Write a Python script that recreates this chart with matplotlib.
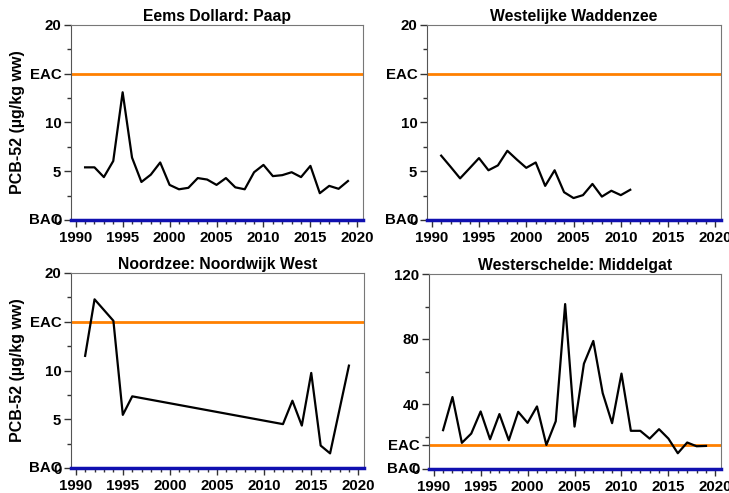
import numpy as np
import matplotlib.pyplot as plt
import matplotlib.transforms as mtransforms

plt.rcParams['font.family'] = ['Liberation Sans', 'DejaVu Sans']
plt.rcParams['font.weight'] = 'bold'

# Eems Dollard: Paap
eems_years = list(range(1991, 2020))
eems_vals = [5.4, 5.4, 4.4, 6.05, 13.1, 6.4, 3.9, 4.65, 5.9, 3.6, 3.15, 3.3, 4.3, 4.15,
             3.6, 4.3, 3.35, 3.15, 4.9, 5.65, 4.5, 4.6, 4.9, 4.4, 5.55, 2.75, 3.5, 3.2, 4.0]

# Westelijke Waddenzee
wadden_years = list(range(1991, 2012))
wadden_vals = [6.6, 5.45, 4.27, 5.3, 6.35, 5.1, 5.6, 7.1, 6.2, 5.35, 5.9, 3.5, 5.1,
               2.85, 2.25, 2.55, 3.7, 2.4, 3.0, 2.55, 3.1]

# Noordzee: Noordwijk West
noord_years = [1991, 1992, 1994, 1995, 1996, 2012, 2013, 2014, 2015, 2016, 2017, 2019]
noord_vals = [11.5, 17.3, 15.1, 5.45, 7.35, 4.5, 6.9, 4.35, 9.75, 2.3, 1.5, 10.5]

# Westerschelde: Middelgat
schelde_years = list(range(1991, 2020))
schelde_vals = [23.9, 44.3, 16.1, 21.8, 35.4, 18.3, 33.8, 17.7, 35.2, 28.4, 38.5, 14.8,
                29.4, 101.5, 26.1, 64.8, 78.8, 46.7, 28.2, 58.7, 23.5, 23.5, 18.7, 24.5,
                18.7, 9.7, 16.3, 14.0, 14.2]

EAC = 15
BAC = 0

panels = [
    ("Eems Dollard: Paap", eems_years, eems_vals, 20, [0, 5, 10, 15, 20], ['0', '5', '10', 'EAC', '20'],
     [2.5, 7.5, 12.5, 17.5], [71, 363, 25, 220], True),
    ("Westelijke Waddenzee", wadden_years, wadden_vals, 20, [0, 5, 10, 15, 20], ['0', '5', '10', 'EAC', '20'],
     [2.5, 7.5, 12.5, 17.5], [427, 721, 25, 220], False),
    ("Noordzee: Noordwijk West", noord_years, noord_vals, 20, [0, 5, 10, 15, 20], ['0', '5', '10', 'EAC', '20'],
     [2.5, 7.5, 12.5, 17.5], [71, 364, 273, 468], True),
    ("Westerschelde: Middelgat", schelde_years, schelde_vals, 120, [0, 15, 40, 80, 120], ['0', 'EAC', '40', '80', '120'],
     [20, 60, 100], [429, 721, 274, 469], False),
]

W, H = 729, 493
fig = plt.figure(figsize=(W / 100, H / 100), dpi=100)

for title, yrs, vals, ymax, yt, ytl, ymin_t, box, ylab in panels:
    l, r, t, b = box
    ax = fig.add_axes([l / W, 1 - b / H, (r - l) / W, (b - t) / H])
    ax.plot(yrs, vals, color='black', lw=1.6, zorder=3)
    ax.axhline(EAC, color='#FF8000', lw=2, zorder=2)
    ax.axhline(BAC, color='#1010B0', lw=2.5, zorder=4, clip_on=False)
    ax.set_xlim(1989.5, 2020.6)
    ax.set_ylim(0, ymax)
    ax.set_xticks(range(1990, 2021, 5))
    ax.set_xticks(range(1990, 2021), minor=True)
    ax.set_yticks(yt, ytl)
    ax.set_yticks(ymin_t, minor=True)
    ax.tick_params(which='both', direction='out', labelsize=10.8, color='#333333')
    ax.tick_params(which='major', length=5, width=1)
    ax.tick_params(which='minor', length=3, width=1)
    ax.tick_params(axis='x', pad=3)
    ax.tick_params(axis='y', pad=2)
    for lab in ax.get_xticklabels() + ax.get_yticklabels():
        lab.set_fontweight('bold')
    for s in ['top', 'right']:
        ax.spines[s].set_color('#777777')
    ax.spines['left'].set_color('#555555')
    ax.spines['bottom'].set_color('#555555')
    # BAC label overlaps the 0 tick label, as in the original
    trans = ax.get_yaxis_transform() + mtransforms.ScaledTranslation(-7 / 72, 0, fig.dpi_scale_trans)
    ax.text(0, BAC, 'BAC', transform=trans, ha='right', va='center', fontsize=10.8, fontweight='bold')
    ax.set_title(title, fontsize=11.3, fontweight='bold', pad=3)
    if ylab:
        ax.set_ylabel('PCB-52 (µg/kg ww)', fontsize=11.5, fontweight='bold', labelpad=3)

fig.savefig('out.png', dpi=100)
